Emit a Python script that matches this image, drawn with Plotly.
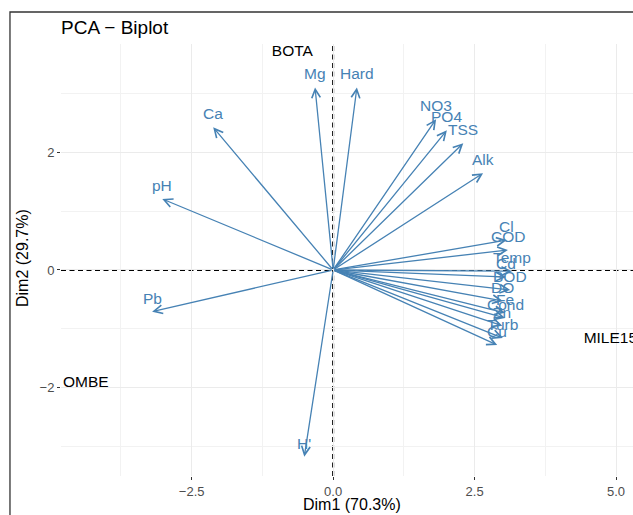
import plotly.graph_objects as go

# ---- data ----
var_names = ["Mg", "Hard", "Ca", "pH", "Pb", "H'", "NO3", "PO4", "TSS", "Alk",
             "Cl", "COD", "Temp", "Cd", "BOD", "DO", "Fe", "Cond", "Zn", "Turb", "Cu"]
var_dim1 = [-0.32, 0.42, -2.12, -3.02, -3.20, -0.51, 1.82, 2.01, 2.30, 2.65,
            3.07, 3.09, 3.16, 3.06, 3.13, 3.00, 3.04, 3.04, 2.99, 3.00, 2.90]
var_dim2 = [3.11, 3.11, 2.43, 1.21, -0.71, -3.18, 2.57, 2.38, 2.16, 1.65,
            0.51, 0.34, -0.02, -0.12, -0.34, -0.53, -0.73, -0.82, -0.95, -1.16, -1.28]

ind_names = ["BOTA", "OMBE", "MILE15"]
ind_dim1 = [-0.72, -4.37, 4.90]
ind_dim2 = [3.71, -1.92, -1.17]

x_ticks = [-2.5, 0.0, 2.5, 5.0]
x_minor = [-3.75, -1.25, 1.25, 3.75]
y_ticks = [-2, 0, 2]
y_minor = [-3, -1, 1, 3]

title_text = "PCA \u2212 Biplot"
x_title = "Dim1 (70.3%)"
y_title = "Dim2 (29.7%)"

# ---- styles ----
ARROW = "#4682B4"
FONT = "Liberation Sans, Arial, sans-serif"

fig = go.Figure()

# invisible trace to establish the axes
fig.add_trace(go.Scatter(x=var_dim1, y=var_dim2, mode="markers",
                         marker=dict(size=1, opacity=0), hoverinfo="skip",
                         showlegend=False))

# variable arrows
for name, x, y in zip(var_names, var_dim1, var_dim2):
    fig.add_annotation(x=x, y=y, ax=0, ay=0, xref="x", yref="y", axref="x", ayref="y",
                       text="", showarrow=True, arrowhead=5, arrowsize=1.3,
                       arrowwidth=1.3, arrowcolor=ARROW, standoff=0)

# variable labels (just above the arrow tips)
for name, x, y in zip(var_names, var_dim1, var_dim2):
    fig.add_annotation(x=x, y=y, xref="x", yref="y", text=name, showarrow=False,
                       xanchor="center", yanchor="middle", yshift=13.5,
                       font=dict(family=FONT, size=15.5, color=ARROW))

# individuals
fig.add_trace(go.Scatter(x=ind_dim1, y=ind_dim2, text=ind_names, mode="text",
                         textposition="middle center",
                         textfont=dict(family=FONT, size=15.5, color="#000000"),
                         cliponaxis=False, hoverinfo="skip", showlegend=False))

# dashed reference lines
fig.add_shape(type="line", xref="x", yref="paper", x0=0, x1=0, y0=0, y1=1,
              line=dict(color="black", width=2, dash="5px,3.5px"), layer="between")
fig.add_shape(type="line", xref="paper", yref="y", x0=0, x1=1, y0=0, y1=0,
              line=dict(color="black", width=2, dash="5px,3.5px"), layer="between")

# frame (left & top border of the cropped picture)
fig.add_shape(type="path", xref="paper", yref="paper",
              path="M -0.0892,-0.2 L -0.0892,1.0741 L 1.2,1.0741",
              line=dict(color="#333333", width=1.3))

axis_common = dict(showline=False, zeroline=False, ticks="outside", ticklen=3,
                   tickwidth=1.1, tickcolor="#333333", showgrid=True,
                   gridcolor="#EBEBEB", gridwidth=1.2, automargin=False,
                   tickfont=dict(family=FONT, size=13, color="#4D4D4D"))

fig.update_xaxes(range=[-4.81, 5.30], tickmode="array", tickvals=x_ticks,
                 ticktext=[f"{v:.1f}".replace("-", "\u2212") for v in x_ticks],
                 minor=dict(tickmode="array", tickvals=x_minor, showgrid=True,
                            gridcolor="#F2F2F2", gridwidth=0.9, ticks=""),
                 **axis_common)
fig.update_yaxes(range=[-3.51, 3.85], tickmode="array", tickvals=y_ticks,
                 ticktext=[str(v).replace("-", "\u2212") for v in y_ticks],
                 minor=dict(tickmode="array", tickvals=y_minor, showgrid=True,
                            gridcolor="#F2F2F2", gridwidth=0.9, ticks=""),
                 **axis_common)

# axis titles
fig.add_annotation(text=x_title, xref="paper", yref="paper", x=0.5087, y=-0.0671,
                   xanchor="center", yanchor="middle", showarrow=False,
                   font=dict(family=FONT, size=16, color="#000000"))
fig.add_annotation(text=y_title, xref="paper", yref="paper", x=-0.0682, y=0.5046,
                   xanchor="center", yanchor="middle", showarrow=False, textangle=-90,
                   font=dict(family=FONT, size=16, color="#000000"))

fig.update_layout(
    width=633, height=515,
    margin=dict(l=61, r=0, t=44, b=39),
    paper_bgcolor="white", plot_bgcolor="white",
    title=dict(text=title_text, x=61 / 633, xanchor="left", xref="container",
               y=1 - 27 / 515, yanchor="middle", yref="container",
               font=dict(family=FONT, size=19, color="#000000")),
    showlegend=False,
)

# remove the page's default body margin so the figure fills the window exactly
fig.write_html("out.html",
               config={"displayModeBar": False},
               post_script="document.body.style.margin='0';"
                           "document.body.style.overflow='hidden';")
